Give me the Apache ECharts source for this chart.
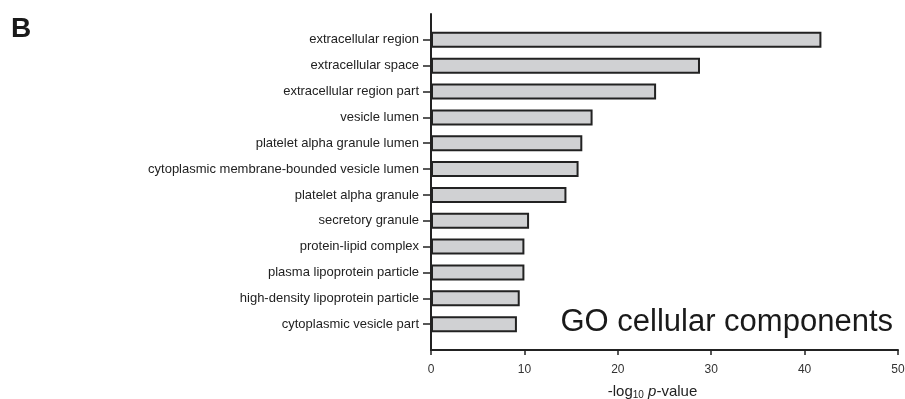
<!DOCTYPE html>
<html>
<head>
<meta charset="utf-8">
<script src="https://cdn.jsdelivr.net/npm/echarts@6/dist/echarts.min.js"></script>
<style>html,body{margin:0;padding:0;background:#fff;}#c{width:905px;height:399px;}</style>
</head>
<body>
<div id="c"></div>
<script>
const categories = [
  'extracellular region',
  'extracellular space',
  'extracellular region part',
  'vesicle lumen',
  'platelet alpha granule lumen',
  'cytoplasmic membrane-bounded vesicle lumen',
  'platelet alpha granule',
  'secretory granule',
  'protein-lipid complex',
  'plasma lipoprotein particle',
  'high-density lipoprotein particle',
  'cytoplasmic vesicle part'
];
const values = [41.8, 28.8, 24.1, 17.3, 16.2, 15.8, 14.5, 10.5, 10.0, 10.0, 9.5, 9.2];
const xTicks = [0, 10, 20, 30, 40, 50];

// padded category list so the axis line extends beyond the outer bars
const axisCats = [' '].concat(categories).concat(['  ']);

const FONT = 'Liberation Sans, Arial, sans-serif';
const chart = echarts.init(document.getElementById('c'));
chart.setOption({
  animation: false,
  backgroundColor: '#fff',
  textStyle: { fontFamily: FONT },
  grid: { left: 431, right: 7, top: 14, bottom: 49, containLabel: false, outerBoundsMode: 'none' },
  title: [
    { text: 'B', left: 6, top: 10, textStyle: { fontSize: 28, fontWeight: 'bold', color: '#1a1a1a', fontFamily: FONT } }
  ],
  graphic: [{
    type: 'text', x: 893, y: 322, z: 10,
    style: { text: 'GO cellular components', fontSize: 31, fontFamily: FONT, fill: '#1a1a1a', textAlign: 'right', textVerticalAlign: 'middle' }
  }],
  xAxis: {
    type: 'value', min: xTicks[0], max: xTicks[xTicks.length - 1], interval: 10,
    splitLine: { show: false },
    axisLine: { show: true, lineStyle: { color: '#222', width: 2 } },
    axisTick: { show: true, length: 5, lineStyle: { color: '#222', width: 1.5 } },
    axisLabel: { color: '#333', fontSize: 12, margin: 14 },
    name: '-log{sub|10} {it|p}-value',
    nameLocation: 'middle', nameGap: 33,
    nameTextStyle: {
      color: '#222', fontSize: 15, padding: [0, 24, 0, 0],
      rich: {
        sub: { fontSize: 10, verticalAlign: 'bottom', padding: [7, 0, 0, 0], color: '#222' },
        it: { fontStyle: 'italic', fontSize: 15, color: '#222' }
      }
    }
  },
  yAxis: {
    type: 'category', data: axisCats, inverse: true, boundaryGap: false,
    axisLine: { show: true, lineStyle: { color: '#222', width: 2 } },
    axisTick: { show: true, length: 8, interval: (i) => i > 0 && i < axisCats.length - 1, lineStyle: { color: '#222', width: 1.5 } },
    axisLabel: { color: '#222', fontSize: 13, margin: 12, interval: 0 },
    splitLine: { show: false }
  },
  series: [{
    type: 'bar',
    data: values.map((v, i) => [v, categories[i]]),
    barWidth: 16,
    itemStyle: { color: '#d0d1d3', borderColor: '#222', borderWidth: 2 }
  }]
});
</script>
</body>
</html>
